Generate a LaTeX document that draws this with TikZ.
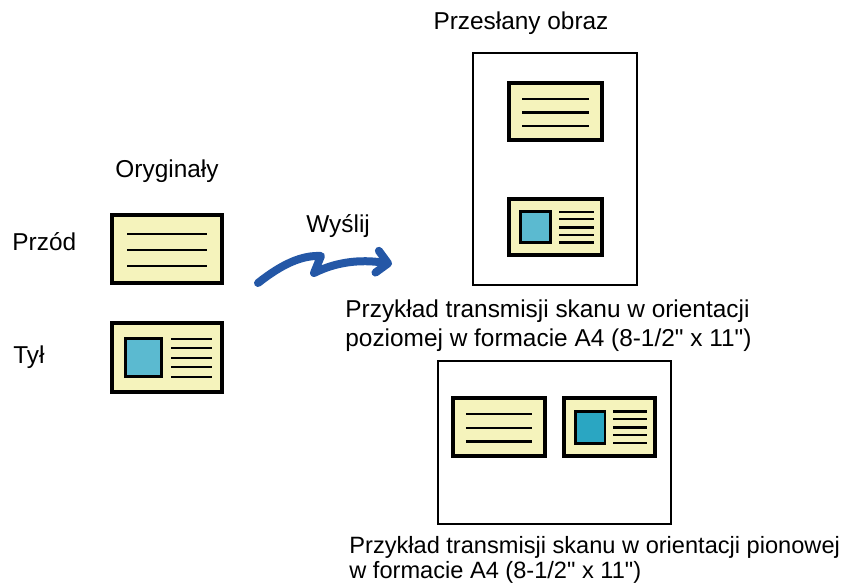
\documentclass[tikz,border=0pt]{standalone}
\usepackage{fontspec}
\setmainfont{Liberation Sans}
\usetikzlibrary{arrows.meta}

\definecolor{cardfill}{HTML}{F5F3BC}
\definecolor{photo}{HTML}{5BBAD0}
\definecolor{photodark}{HTML}{2AA6C2}
\definecolor{sendblue}{HTML}{2457A6}

% card with three text lines: x, y, width, height
\newcommand{\textcard}[4]{%
\begin{scope}[shift={(#1,#2)},xscale=#3,yscale=#4]
\draw[card] (0,0) rectangle (1,1);
\foreach \ly in {0.28,0.515,0.75} \draw[cardline] (0.14,\ly) -- (0.86,\ly);
\end{scope}}

% card with photo and five lines: x, y, width, height, photo colour
\newcommand{\photocard}[5]{%
\begin{scope}[shift={(#1,#2)},xscale=#3,yscale=#4]
\draw[card] (0,0) rectangle (1,1);
\draw[cardline, line width=1.4pt, fill=#5] (0.125,0.23) rectangle (0.45,0.78);
\foreach \ly in {0.23,0.36,0.51,0.64,0.78} \draw[cardline] (0.54,\ly) -- (0.91,\ly);
\end{scope}}

\begin{document}
\begin{tikzpicture}[x=0.5pt,y=-0.5pt]
\tikzstyle{card} = [draw=black, fill=cardfill, line width=1.6pt]
\tikzstyle{cardline} = [draw=black, line width=1.2pt]
\tikzstyle{page} = [draw=black, line width=1.2pt, fill=white]
\tikzstyle{label} = [font=\fontsize{12.2}{14.5}\selectfont, inner sep=0pt]
\tikzstyle{sendarrow} = [draw=sendblue, line width=4pt, line cap=round, line join=round,
  -{Straight Barb[length=5.5pt,width=11pt,round]}]

\useasboundingbox (0,0) rectangle (849,584);

% originals
\node[label, anchor=base] (orig) at (167,177) {Oryginały};
\node[label, anchor=base west] (front) at (12,250) {Przód};
\node[label, anchor=base west] (back) at (13,363) {Tył};
\textcard{112}{215}{110}{68}
\photocard{112}{323}{110}{69}{photo}

% send
\node[label, anchor=base west] (send) at (306,232) {Wyślij};
\draw[sendarrow] (258,283) .. controls (282,264) and (302,255) .. (321,256)
  -- (314,273) .. controls (336,262) and (360,259) .. (392,264);

% sent image, portrait page
\node[label, anchor=base] (sent) at (521,29) {Przesłany obraz};
\draw[page] (473,53) rectangle (637,285);
\textcard{509}{83}{93}{57}
\photocard{509}{199}{93}{56}{photo}
\node[label, anchor=base west, align=left] (capA) at (345,346)
  {Przykład transmisji skanu w orientacji\\poziomej w formacie A4 (8-1/2\textquotedbl{} x 11\textquotedbl)};

% landscape page
\draw[page] (438,361) rectangle (671,524);
\textcard{453}{398}{92}{58}
\photocard{564}{398}{91}{58}{photodark}
\node[label, anchor=base west, align=left, font=\fontsize{11.8}{12.5}\selectfont] (capB) at (349,578)
  {Przykład transmisji skanu w orientacji pionowej\\w formacie A4 (8-1/2\textquotedbl{} x 11\textquotedbl)};
\end{tikzpicture}
\end{document}
